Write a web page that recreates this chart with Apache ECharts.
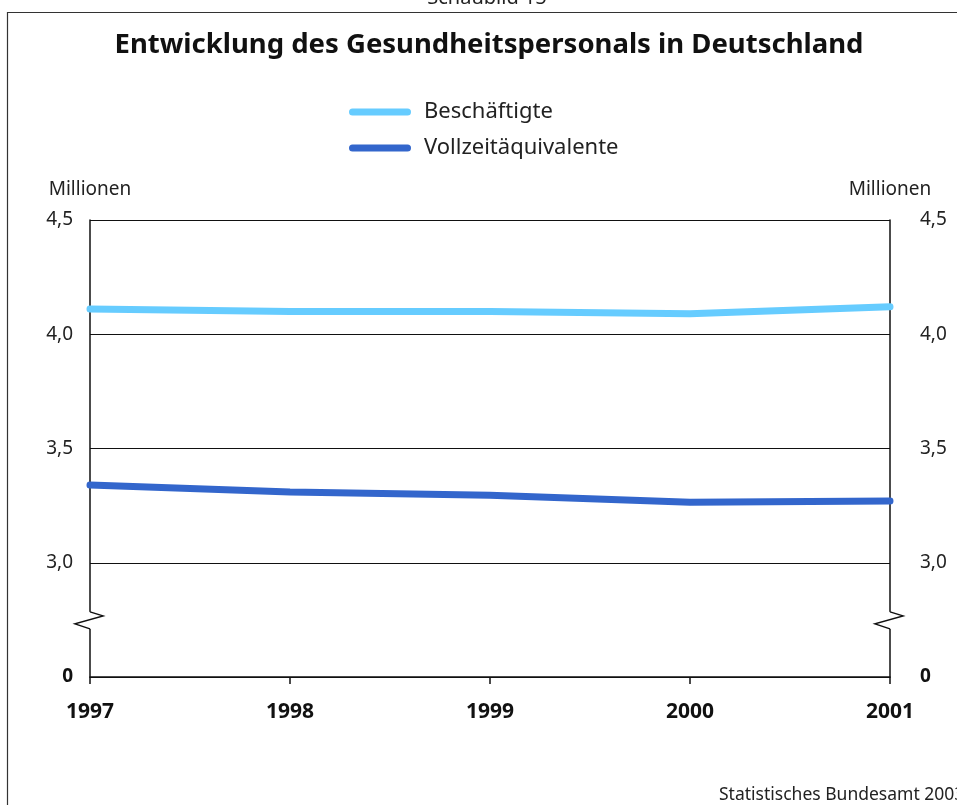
<!DOCTYPE html>
<html>
<head>
<meta charset="utf-8">
<script src="https://cdn.jsdelivr.net/npm/echarts@6/dist/echarts.min.js"></script>
<style>
html,body{margin:0;padding:0;background:#fff;}
#chart{width:957px;height:805px;}
</style>
</head>
<body>
<div id="chart"></div>
<script>
// Data
var years = ['1997', '1998', '1999', '2000', '2001'];
var beschaeftigte = [4.11, 4.10, 4.10, 4.09, 4.12];
var vollzeit = [3.34, 3.31, 3.295, 3.265, 3.27];
var seriesNames = ['Beschäftigte', 'Vollzeitäquivalente'];
// y axis ticks: lowest tick stands for 0 (axis break)
var yTickValues = [2.5, 3.0, 3.5, 4.0, 4.5];
var yTickLabels = ['0', '3,0', '3,5', '4,0', '4,5'];
var breakValue = 2.75;

var FONT = '"Noto Sans", "Open Sans", sans-serif';
var chart = echarts.init(document.getElementById('chart'));

function yLabel(v) {
  var i = yTickValues.indexOf(Math.round(v * 10) / 10);
  if (i < 0) return '';
  return i === 0 ? '{b|' + yTickLabels[i] + '}' : yTickLabels[i];
}

var yAxisCommon = {
  type: 'value',
  min: 2.5, max: 4.5, interval: 0.5,
  name: 'Millionen',
  nameLocation: 'end',
  nameGap: 21,
  nameTextStyle: { fontFamily: FONT, fontSize: 19, color: '#222' },
  axisLine: { show: true, lineStyle: { color: '#111', width: 1.5 } },
  axisTick: { show: false },
  splitLine: { show: true, lineStyle: { color: '#111', width: 1 } },
  axisLabel: {
    formatter: yLabel,
    fontFamily: FONT, fontSize: 19, color: '#222',
    rich: { b: { fontFamily: FONT, fontSize: 19, fontWeight: 'bold', color: '#111' } }
  }
};

var option = {
  animation: false,
  backgroundColor: '#fff',
  grid: { left: 90, right: 67, top: 220, bottom: 128 },
  legend: {
    orient: 'vertical',
    left: 344, top: 96,
    itemWidth: 62, itemHeight: 7, itemGap: 14,
    icon: 'path://M3.5,0 L58.5,0 A3.5,3.5 0 0 1 58.5,7 L3.5,7 A3.5,3.5 0 0 1 3.5,0 Z',
    textStyle: { fontFamily: FONT, fontSize: 22, color: '#222', padding: [0, 0, 0, 8] },
    data: seriesNames
  },
  xAxis: {
    type: 'category',
    data: years,
    boundaryGap: false,
    axisLine: { lineStyle: { color: '#111', width: 1.5 } },
    axisTick: { show: true, length: 7, lineStyle: { color: '#111', width: 1.5 } },
    axisLabel: { margin: 25, fontFamily: FONT, fontSize: 21, fontWeight: 'bold', color: '#111' }
  },
  yAxis: [
    Object.assign({}, yAxisCommon, { position: 'left', axisLabel: Object.assign({}, yAxisCommon.axisLabel, { margin: 17 }) }),
    Object.assign({}, yAxisCommon, { position: 'right', splitLine: { show: false }, axisLabel: Object.assign({}, yAxisCommon.axisLabel, { margin: 30 }) })
  ],
  series: [
    {
      name: seriesNames[0], type: 'line', data: beschaeftigte,
      symbol: 'none', color: '#66CCFF',
      lineStyle: { width: 7, color: '#66CCFF', cap: 'round' }, z: 5
    },
    {
      name: seriesNames[1], type: 'line', data: vollzeit,
      symbol: 'none', color: '#3366CC',
      lineStyle: { width: 7, color: '#3366CC', cap: 'round' }, z: 5
    }
  ]
};
chart.setOption(option);

// Decorations: frame, titles, axis breaks
var pLeft = chart.convertToPixel({ gridIndex: 0 }, [0, breakValue]);
var pRight = chart.convertToPixel({ gridIndex: 0 }, [years.length - 1, breakValue]);
function zigzag(p) {
  var x = p[0], c = p[1];
  return [
    { type: 'rect', shape: { x: x - 3, y: c - 8, width: 6, height: 17 }, style: { fill: '#fff' }, z: 10 },
    { type: 'polyline', shape: { points: [[x, c - 8], [x + 13, c - 4], [x - 15, c + 4], [x, c + 9]] },
      style: { stroke: '#111', lineWidth: 1.5, fill: null }, z: 11 }
  ];
}
chart.setOption({
  graphic: [
    { type: 'rect', shape: { x: 7.5, y: 12.5, width: 1200, height: 1200 }, style: { fill: null, stroke: '#333', lineWidth: 1.2 }, z: 0 },
    { type: 'text', x: 487, y: 8, style: { text: 'Schaubild 15', font: '20px ' + FONT, fill: '#222', textAlign: 'center', textVerticalAlign: 'bottom' } },
    { type: 'text', x: 489, y: 45, style: { text: 'Entwicklung des Gesundheitspersonals in Deutschland', font: 'bold 27.5px ' + FONT, fill: '#111', textAlign: 'center', textVerticalAlign: 'middle' } },
    { type: 'text', x: 719, y: 795, style: { text: 'Statistisches Bundesamt 2003', font: '17.5px ' + FONT, fill: '#222', textAlign: 'left', textVerticalAlign: 'middle' } }
  ].concat(zigzag(pLeft)).concat(zigzag(pRight))
});
</script>
</body>
</html>
